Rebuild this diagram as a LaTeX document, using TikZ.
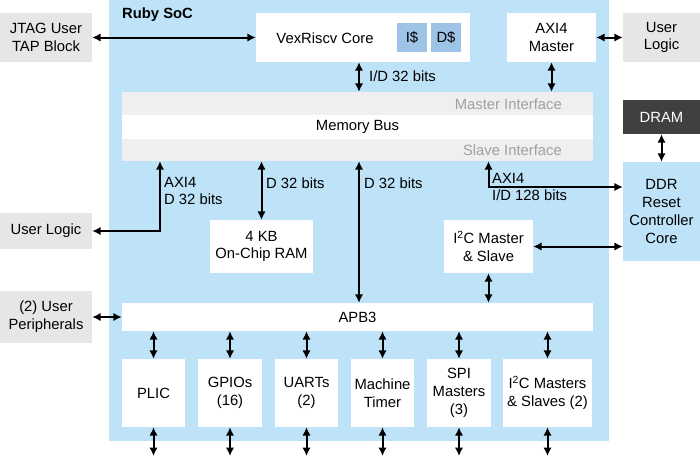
\documentclass[tikz,border=0pt]{standalone}
\usepackage{fontspec}
\setmainfont{Liberation Sans}
\usepackage{tikz}
\usetikzlibrary{arrows.meta}
\usetikzlibrary{positioning}
\definecolor{socblue}{HTML}{BEE3F8}
\definecolor{cacheblue}{HTML}{9DC3E6}
\definecolor{boxgray}{HTML}{E6E6E6}
\definecolor{bandgray}{HTML}{EFEFEF}
\definecolor{textgray}{HTML}{A0A0A0}
\definecolor{dramgray}{HTML}{404040}

\begin{document}
\begin{tikzpicture}[x=1pt, y=-1pt,
    every node/.style={font=\fontsize{14.8}{17.7}\selectfont, inner sep=0pt, align=center},
    blk/.style={fill=white, minimum width=#1},
    ext/.style={fill=boxgray, minimum width=#1},
    link/.style={{Latex[length=8.5pt,width=8.5pt]}-{Latex[length=8.5pt,width=8.5pt]}, line width=2pt}]
    \useasboundingbox (0, 0) rectangle (700, 456);

    \fill [socblue] (109, 0) rectangle (609, 441);
    \node [anchor=west, font=\fontsize{14.8}{17.7}\selectfont\bfseries] (soc) at (122, 15) {Ruby SoC};

    \node [blk=214, minimum height=49] (core) at (363, 37.5) {};
    \node (coretxt) at (325, 38) {VexRiscv Core};
    \node [fill=cacheblue, minimum width=30, minimum height=29] (icache) at (412, 37.5) {I\$};
    \node [fill=cacheblue, minimum width=30, minimum height=29] (dcache) at (446, 37.5) {D\$};
    \node [blk=89, minimum height=49] (axim) at (551.5, 37.5) {AXI4\\Master};
    \node [ext=92, minimum height=49] (jtag) at (46, 37.5) {JTAG User\\TAP Block};
    \node [ext=77, minimum height=49] (ulogic) at (661.5, 37.5) {User\\Logic};

    \node [fill=bandgray, minimum width=471, minimum height=23] (mif) at (357.5, 103.5) {};
    \node [blk=471, minimum height=24] (bus) at (357.5, 127) {Memory Bus};
    \node [fill=bandgray, minimum width=471, minimum height=22] (sif) at (357.5, 150) {};
    \node [anchor=east, text=textgray] (miftxt) at (562, 104) {Master Interface};
    \node [anchor=east, text=textgray] (siftxt) at (562, 150) {Slave Interface};

    \node [fill=dramgray, text=white, minimum width=77, minimum height=34] (dram) at (661.5, 117) {DRAM};
    \node [fill=socblue, minimum width=77, minimum height=99] (ddr) at (661.5, 211.5) {DDR\\Reset\\Controller\\Core};

    \node [ext=92, minimum height=36] (ulogicb) at (46, 231) {User Logic};
    \node [blk=103, minimum height=53] (ram) at (261.5, 246.5) {4 KB\\On-Chip RAM};
    \node [blk=89, minimum height=53] (i2c) at (488.5, 246.5) {I\textsuperscript{2}C Master\\\& Slave};

    \node [blk=471, minimum height=28] (apb) at (357.5, 317) {APB3};
    \node [ext=92, minimum height=52] (uper) at (46, 317) {(2) User\\Peripherals};

    \node [blk=63, minimum height=68] (plic) at (153.5, 393) {PLIC};
    \node [blk=64, minimum height=68] (gpio) at (230, 393) {GPIOs\\(16)};
    \node [blk=63, minimum height=68] (uart) at (306.5, 393) {UARTs\\(2)};
    \node [blk=63, minimum height=68] (timer) at (382.5, 393) {Machine\\Timer};
    \node [blk=64, minimum height=68] (spi) at (459, 393) {SPI\\Masters\\(3)};
    \node [blk=89, minimum height=68] (i2cs) at (547.5, 393) {I\textsuperscript{2}C Masters\\\& Slaves (2)};

    \coordinate (xd) at (359, 0);
    \coordinate (xa) at (160, 0);
    \coordinate (yq) at (0, 187);
    \coordinate (yb) at (0, 456);

    \draw [link] (jtag.east) -- (core.west);
    \draw [link] (axim.east) -- (ulogic.west);
    \draw [link] (core.south -| xd) -- (mif.north -| xd);
    \draw [link] (axim.south) -- (axim.south |- mif.north);
    \draw [link] (dram.south) -- (ddr.north);
    \draw [link] (ulogicb.east) -| (sif.south -| xa);
    \draw [link] (ram.north) -- (ram.north |- sif.south);
    \draw [link] (sif.south -| xd) -- (apb.north -| xd);
    \draw [link] (ddr.west |- yq) -| (sif.south -| i2c);
    \draw [link] (i2c.east) -- (i2c.east -| ddr.west);
    \draw [link] (i2c.south) -- (i2c.south |- apb.north);
    \draw [link] (uper.east) -- (uper.east -| apb.west);

    \foreach \b in {plic, gpio, uart, timer, spi, i2cs} {
      \draw [link] (apb.south -| \b) -- (\b.north);
      \draw [link] (\b.south) -- (\b.south |- yb);
    }

    \node [anchor=west] (idlbl) at (369, 76) {I/D 32 bits};
    \node [anchor=west, align=left] (axlbl) at (164, 191) {AXI4\\D 32 bits};
    \node [anchor=west] (ramlbl) at (266, 183) {D 32 bits};
    \node [anchor=west] (apblbl) at (364, 183) {D 32 bits};
    \node [anchor=west, align=left] (ddrlbl) at (492, 187) {AXI4\\I/D 128 bits};
  \end{tikzpicture}
\end{document}
